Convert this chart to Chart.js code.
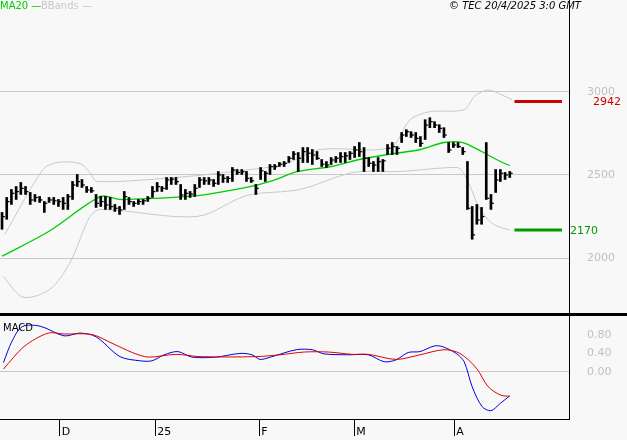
<!DOCTYPE html>
<html><head><meta charset="utf-8">
<script src="https://cdn.jsdelivr.net/npm/chart.js@4/dist/chart.umd.min.js"></script>
<style>
body{margin:0;background:#f8f8f8;width:627px;height:440px;overflow:hidden;position:relative;font-family:"DejaVu Sans",sans-serif}
#top{position:absolute;left:0;top:0;width:627px;height:314px}
#bot{position:absolute;left:0;top:313px;width:627px;height:124px;border-top:3px solid #000}
canvas{display:block}
.t{position:absolute;font-size:10px;white-space:nowrap;line-height:10px}
</style></head><body>
<div id="top"><canvas id="c1" width="627" height="314" style="width:627px;height:314px"></canvas></div>
<div id="bot"><canvas id="c2" width="627" height="124" style="width:627px;height:124px"></canvas></div>
<div class="t" style="left:0;top:1px;color:#00cc00">MA20 —</div>
<div class="t" style="left:41px;top:1px;color:#c8c8c8">BBands —</div>
<div class="t" style="left:449px;top:1px;color:#000;font-style:italic">© TEC 20/4/2025 3:0 GMT</div>
<div class="t" style="left:593px;top:97px;color:#cc0000;font-size:11px">2942</div>
<div class="t" style="left:570px;top:226px;color:#009900;font-size:11px">2170</div>
<div class="t" style="left:3px;top:323px;color:#000">MACD</div>
<script>
const highs=[2275,2365,2413,2431,2455,2431,2395,2383,2371,2341,2365,2365,2353,2365,2383,2461,2503,2473,2431,2425,2383,2371,2371,2365,2323,2311,2401,2365,2341,2353,2353,2371,2431,2455,2431,2485,2485,2485,2443,2413,2401,2443,2485,2485,2485,2473,2521,2503,2491,2545,2533,2533,2521,2485,2443,2545,2521,2563,2563,2575,2581,2611,2641,2635,2665,2665,2653,2641,2593,2581,2605,2611,2635,2635,2641,2671,2695,2665,2605,2581,2605,2593,2683,2695,2671,2755,2772,2760,2755,2731,2832,2844,2820,2802,2784,2695,2695,2695,2665,2581,2311,2323,2305,2695,2383,2533,2533,2515,2521];
const lows=[2174,2234,2323,2353,2383,2383,2323,2341,2335,2275,2335,2323,2311,2293,2293,2353,2431,2425,2395,2395,2305,2311,2293,2293,2281,2263,2293,2323,2311,2323,2323,2341,2365,2401,2401,2413,2443,2443,2353,2353,2365,2371,2425,2443,2443,2431,2443,2455,2455,2461,2503,2503,2461,2455,2383,2473,2461,2503,2533,2551,2551,2575,2593,2521,2575,2575,2563,2593,2551,2545,2563,2575,2575,2575,2593,2605,2611,2521,2551,2521,2521,2521,2623,2623,2623,2695,2731,2725,2695,2671,2713,2784,2784,2755,2725,2635,2665,2665,2623,2293,2114,2204,2204,2353,2293,2395,2461,2473,2485];
const closes=[2250,2340,2390,2400,2420,2400,2350,2365,2350,2330,2350,2345,2340,2330,2370,2440,2460,2440,2410,2405,2330,2340,2320,2310,2300,2290,2370,2340,2330,2340,2345,2360,2400,2430,2420,2470,2475,2460,2380,2390,2385,2420,2470,2465,2470,2450,2500,2480,2480,2530,2515,2520,2480,2465,2420,2525,2510,2550,2550,2565,2570,2600,2625,2600,2640,2630,2620,2600,2565,2560,2590,2600,2610,2615,2630,2650,2640,2600,2570,2560,2580,2585,2660,2670,2660,2740,2760,2740,2720,2690,2800,2820,2800,2780,2740,2650,2680,2670,2640,2300,2140,2230,2250,2360,2330,2470,2510,2500,2510];
const ma20Idx=[0,10,21,25,32,42,53,57,63,70,76,82,89,94,98,102,106,108];
const ma20Val=[2012,2162,2371,2353,2359,2377,2431,2461,2521,2551,2593,2623,2653,2695,2695,2641,2581,2557];
const bbUpIdx=[0.6,8.7,11.7,16.6,18.7,20.2,39.4,49.1,59.8,67.7,82.6,86.8,91,98.3,100.4,102.6,104.3,108.5];
const bbUpVal=[2144,2533,2575,2569,2515,2461,2491,2521,2563,2653,2665,2832,2880,2892,2970,3006,3006,2952];
const bbLoIdx=[0.2,4.5,10.2,14.5,18.7,20.9,41.5,52.1,63.4,74.7,84.7,96.8,98.1,99.6,101.7,104.5,108.1];
const bbLoVal=[1892,1766,1814,1976,2251,2293,2251,2377,2413,2515,2521,2545,2515,2431,2293,2204,2168];
const macdIdx=[0.3,2.1,4.3,8.1,13.2,16.6,20,25.1,29.4,31.9,34.5,37.4,40.4,45.5,50.6,53.2,54.9,57.4,62.6,66,68.5,73.6,77.9,81.3,83.8,86.4,88.9,91.9,93.6,96.6,98.3,100,102.1,104,106,108];
const macdVal=[0.20,0.66,0.98,0.99,0.78,0.84,0.76,0.33,0.24,0.24,0.37,0.44,0.32,0.32,0.40,0.37,0.27,0.33,0.48,0.48,0.39,0.37,0.37,0.22,0.26,0.42,0.44,0.56,0.55,0.40,0.22,-0.32,-0.75,-0.84,-0.68,-0.52];
const sigIdx=[0.3,4.7,9.8,13.2,19.1,23.4,27.7,31.1,37,42.1,54,59.1,64.3,69.4,74.5,77.9,83.8,88.9,94,97.4,100.9,103.4,106,108];
const sigVal=[0.06,0.55,0.84,0.82,0.81,0.62,0.42,0.32,0.38,0.33,0.33,0.37,0.43,0.43,0.38,0.38,0.27,0.37,0.48,0.40,0.08,-0.32,-0.50,-0.53];
const resistance=2942, support=2170, levelFrom=109, levelTo=119.1;
const xTickPos=[12.3,32.6,54.7,74.9,96.2];
const xTickLbl=['D','25','F','M','A'];
const priceTicks=[2000,2500,3000];
const macdTicks=[0,0.4,0.8];

const XMIN=-0.43, XMAX=120.6;
const pts=(a,b)=>a.map((x,i)=>({x:x,y:b[i]}));
const z=s=>{s.paddingTop=0;s.paddingBottom=0;s.paddingLeft=0;s.paddingRight=0;};
const fitY=s=>{s.width=58;z(s);};
const xLabels={id:'xl',afterDraw(ch){const s=ch.scales.x,c=ch.ctx;c.save();c.fillStyle='#000';c.font='11px "DejaVu Sans"';c.textBaseline='bottom';
 xTickPos.forEach((v,i)=>c.fillText(xTickLbl[i],s.getPixelForValue(v)+2,ch.height-2));c.restore();}};
new Chart(document.getElementById('c1'),{
 data:{datasets:[
  {type:'bar',data:highs.map((h,i)=>({x:i,y:[lows[i],h]})),backgroundColor:'#000',barThickness:2,order:1},
  {type:'scatter',data:closes.map((c,i)=>({x:i+0.3,y:c})),pointStyle:'line',radius:1.5,borderColor:'#000',borderWidth:1.2,order:0},
  {type:'line',data:pts(ma20Idx,ma20Val),borderColor:'#00cc00',borderWidth:1.3,pointRadius:0,tension:0.3,order:2},
  {type:'line',data:pts(bbUpIdx,bbUpVal),borderColor:'#c8c8c8',borderWidth:1,pointRadius:0,tension:0.3,order:3},
  {type:'line',data:pts(bbLoIdx,bbLoVal),borderColor:'#c8c8c8',borderWidth:1,pointRadius:0,tension:0.3,order:3},
  {type:'line',data:[{x:levelFrom,y:resistance},{x:levelTo,y:resistance}],borderColor:'#cc0000',borderWidth:3,pointRadius:0},
  {type:'line',data:[{x:levelFrom,y:support},{x:levelTo,y:support}],borderColor:'#009900',borderWidth:3,pointRadius:0}
 ]},
 options:{responsive:false,animation:false,devicePixelRatio:1,layout:{padding:0,autoPadding:false},
  plugins:{legend:{display:false},tooltip:{enabled:false}},
  scales:{
   x:{type:'linear',min:XMIN,max:XMAX,display:false,offset:false,afterFit:z},
   y:{position:'right',min:1665,max:3551,afterFit:fitY,
      afterBuildTicks:s=>{s.ticks=priceTicks.map(v=>({value:v}));},
      grid:{color:'#c8c8c8',drawTicks:false},border:{color:'#000',width:1},
      ticks:{color:'#c0c0c0',padding:18,font:{size:11,family:'DejaVu Sans'},callback:v=>String(v)}}
  }}
});
new Chart(document.getElementById('c2'),{
 data:{datasets:[
  {type:'line',data:pts(sigIdx,sigVal),borderColor:'#dd0000',borderWidth:1,pointRadius:0,tension:0.3},
  {type:'line',data:pts(macdIdx,macdVal),borderColor:'#0000dd',borderWidth:1,pointRadius:0,tension:0.3}
 ]},
 plugins:[xLabels],
 options:{responsive:false,animation:false,devicePixelRatio:1,layout:{padding:0,autoPadding:false},
  plugins:{legend:{display:false},tooltip:{enabled:false}},
  scales:{
   x:{type:'linear',min:XMIN,max:XMAX,
      afterBuildTicks:s=>{s.ticks=xTickPos.map(v=>({value:v}));},
      afterFit:s=>{s.height=21;z(s);},
      grid:{drawOnChartArea:false,color:'#000',tickLength:17},border:{color:'#000'},
      ticks:{display:false}},
   y:{position:'right',min:-1.02,max:1.21,afterFit:fitY,
      afterBuildTicks:s=>{s.ticks=macdTicks.map(v=>({value:v}));},
      grid:{color:c=>c.tick&&c.tick.value===0?'#c8c8c8':'rgba(0,0,0,0)',drawTicks:false},border:{color:'#000'},
      ticks:{color:'#c0c0c0',padding:18,font:{size:11,family:'DejaVu Sans'},callback:v=>v.toFixed(2)}}
  }}
});
</script></body></html>
